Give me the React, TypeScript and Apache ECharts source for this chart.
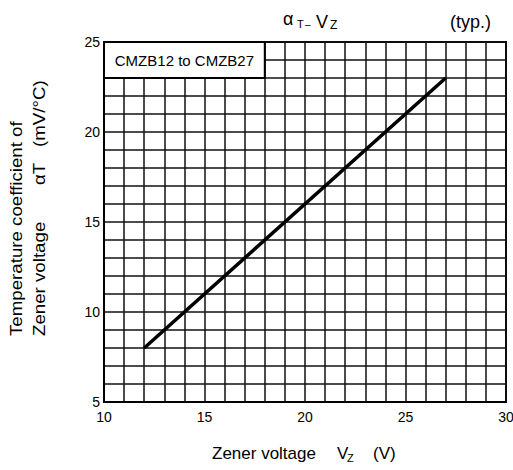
import React, { useEffect, useRef } from "react";
import * as echarts from "echarts";

const xRange = [10, 30];
const yRange = [5, 25];
const xTickLabels = [10, 15, 20, 25, 30];
const yTickLabels = [5, 10, 15, 20, 25];
const vzValues = [12, 27];
const alphaValues = [8, 23];
const legendLabel = "CMZB12 to CMZB27";
const legendFrom = [10, 25];
const legendTo = [18, 23];

const FONT = "Liberation Sans, Arial, sans-serif";

function txt(text: string, x: number, y: number, size: number, extra: any = {}) {
  const { style, ...rest } = extra;
  return {
    type: "text",
    x,
    y,
    ...rest,
    style: {
      text,
      fontSize: size,
      fontFamily: FONT,
      fill: "#000",
      align: "left",
      verticalAlign: "bottom",
      ...(style || {}),
    },
  };
}

function vtxt(text: string, x: number, y: number, size: number) {
  return {
    type: "text",
    x,
    y,
    rotation: Math.PI / 2,
    scaleX: 1.1,
    style: {
      text,
      fontSize: size,
      fontFamily: FONT,
      fill: "#000",
      align: "left",
      verticalAlign: "middle",
    },
  };
}

export default function App() {
  const ref = useRef<HTMLDivElement>(null);
  useEffect(() => {
    if (!ref.current) return;
    const chart = echarts.init(ref.current, null, { renderer: "svg" });
    const gridLine = { show: true, lineStyle: { color: "#111", width: 1.5 } };
    chart.setOption({
      animation: false,
      backgroundColor: "#fff",
      grid: {
        left: 104,
        right: 7,
        top: 42,
        bottom: 68,
        containLabel: false,
        outerBoundsMode: "auto",
        outerBounds: { left: -60, right: -60, top: -60, bottom: -60 },
        show: true,
        borderColor: "#000",
        borderWidth: 2,
        backgroundColor: "transparent",
      },
      xAxis: {
        type: "value",
        min: xRange[0],
        max: xRange[1],
        interval: 1,
        axisLine: { show: true, lineStyle: { color: "#000", width: 2 } },
        axisTick: { show: false },
        splitLine: gridLine,
        axisLabel: {
          margin: 8,
          fontSize: 14,
          fontFamily: FONT,
          color: "#000",
          formatter: (v: number) => (xTickLabels.includes(v) ? String(v) : ""),
        },
      },
      yAxis: {
        type: "value",
        min: yRange[0],
        max: yRange[1],
        interval: 1,
        axisLine: { show: true, lineStyle: { color: "#000", width: 2 } },
        axisTick: { show: false },
        splitLine: gridLine,
        axisLabel: {
          margin: 4,
          fontSize: 14,
          fontFamily: FONT,
          color: "#000",
          formatter: (v: number) => (yTickLabels.includes(v) ? String(v) : ""),
        },
      },
      series: [
        {
          type: "line",
          data: vzValues.map((v, i) => [v, alphaValues[i]]),
          symbol: "none",
          lineStyle: { color: "#000", width: 3.5 },
          z: 3,
          markArea: {
            silent: true,
            itemStyle: { color: "#fff", borderColor: "#000", borderWidth: 2, opacity: 1 },
            label: {
              show: true,
              position: "inside",
              fontSize: 15,
              fontFamily: FONT,
              color: "#000",
            },
            data: [[{ coord: legendFrom, name: legendLabel }, { coord: legendTo }]],
          },
        },
      ],
      graphic: [
        txt("α", 283, 28, 18),
        txt("T", 297, 29.5, 11),
        txt("–", 305, 29.5, 10),
        txt("V", 316, 31, 18),
        txt("Z", 330, 30.5, 12),
        txt("(typ.)", 450, 31, 18),
        txt("Zener voltage", 212, 462, 17),
        txt("V", 337, 462, 17),
        txt("Z", 347, 463, 11),
        txt("(V)", 373, 462, 17),
        vtxt("Temperature coefficient of", 16, 336, 17),
        vtxt("Zener voltage", 39, 336, 17),
        vtxt("αT", 39, 185, 17),
        vtxt("(mV/°C)", 39, 147, 17),
      ],
    });
    return () => chart.dispose();
  }, []);
  return (
    <div
      ref={ref}
      style={{ position: "absolute", left: 0, top: 0, width: 513, height: 470, background: "#fff" }}
    />
  );
}
